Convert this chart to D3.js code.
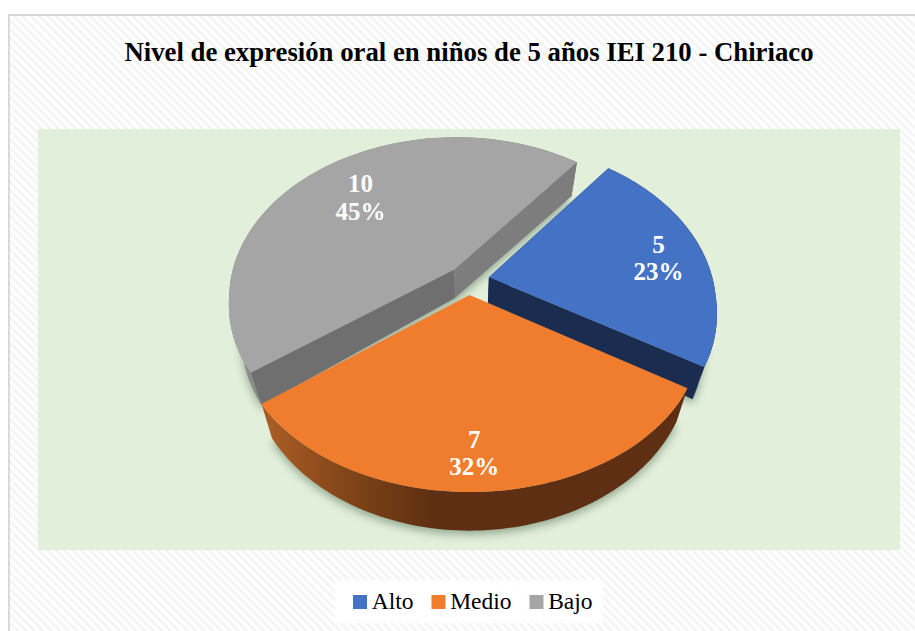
<!DOCTYPE html>
<html><head><meta charset="utf-8">
<script src="https://cdn.jsdelivr.net/npm/d3@7/dist/d3.min.js"></script>
<style>html,body{margin:0;padding:0;background:#fff;overflow:hidden}svg{display:block}text{font-family:"Liberation Serif","Times New Roman",serif}</style>
</head><body><div id="c"></div>
<script>
const title = "Nivel de expresión oral en niños de 5 años IEI 210 - Chiriaco";
const categories = ["Alto", "Medio", "Bajo"];
const values = [5, 7, 10];
const percentLabels = ["23%", "32%", "45%"];

const topColors = ["#4472c4", "#f07d2e", "#a5a5a5"];
const cutColors = ["#1a2d50", "#5e2f12", "#7d7d7d"];
const cutColors2 = ["#1a2d50", "#5e2f12", "#6f6f6f"];
const sideStops = [["#1f3560", "#1a2d50"], ["#ad5e26", "#824518", "#5e2f12", "#5e2f12", "#5e2f12", "#5e2f12"], ["#8c8c8c", "#7a7a7a"]];
const labelRadii = [0.79, 0.815, 0.695];
const labelShiftDeg = [1.2, 1.5, 1.5];
const drawOrder = [2, 0, 1];
const showCut = [true, false, true];
const swatchX = [353, 431.5, 529.5];

const W = 915, H = 631;
const cx = 468.5, cy = 280, RX = 224, RY = 158, K = 0.17, EXPLODE = 0.093, BULGE = 4, BULGE_X = 0.01;
const FIRST = 38.2 * Math.PI / 180;
const svg = d3.select("#c").append("svg").attr("width", W).attr("height", H);
const defs = svg.append("defs");

const hatch = defs.append("pattern").attr("id", "hatch").attr("patternUnits", "userSpaceOnUse")
  .attr("width", 6).attr("height", 6).attr("patternTransform", "rotate(45)");
hatch.append("rect").attr("width", 6).attr("height", 6).attr("fill", "#ffffff");
hatch.append("rect").attr("width", 6).attr("height", 3).attr("fill", "#f5f5f5");

const shadow = defs.append("filter").attr("id", "shadow").attr("x", "-20%").attr("y", "-20%").attr("width", "140%").attr("height", "140%");
shadow.append("feGaussianBlur").attr("stdDeviation", 4);

sideStops.forEach((stops, i) => {
  const g = defs.append("linearGradient").attr("id", "side" + i);
  stops.forEach((c, j) => g.append("stop").attr("offset", j / (stops.length - 1)).attr("stop-color", c));
});

svg.append("rect").attr("x", 9).attr("y", 15).attr("width", W).attr("height", H)
  .attr("fill", "url(#hatch)").attr("stroke", "#d9d9d9").attr("stroke-width", 2);
svg.append("rect").attr("x", 38).attr("y", 129).attr("width", 862).attr("height", 421).attr("fill", "#e2efda");

svg.append("text").attr("x", 469).attr("y", 61).attr("text-anchor", "middle")
  .attr("font-size", 26.76).attr("font-weight", "bold").attr("fill", "#000").text(title);

const slices = d3.pie().sort(null).startAngle(FIRST).endAngle(FIRST + 2 * Math.PI)(values);

function proj(xn, yn) {
  const w = 1 + K * yn;
  const u = 4 * Math.max(0, (-yn - 0.09) * (1.09 + yn));
  return [cx + RX * xn * (1 + BULGE_X * u) / w, cy - RY * yn / w + BULGE * u];
}
function lower(p) {
  return [cx + (p[0] - cx) * 0.95, p[1] + 28 + Math.abs(p[1] - cy) * 0.05];
}
const line = d3.line();

const geo = slices.map((s, i) => {
  const mid = (s.startAngle + s.endAngle) / 2;
  const ox = EXPLODE * Math.sin(mid), oy = EXPLODE * Math.cos(mid);
  const at = (a, r) => proj(ox + r * Math.sin(a), oy + r * Math.cos(a));
  const n = 80;
  const arc = d3.range(n + 1).map(j => at(s.startAngle + (s.endAngle - s.startAngle) * j / n, 1));
  const apex = proj(ox, oy);
  return { i, mid, at, arc, apex };
});

const shadowG = svg.append("g").attr("filter", "url(#shadow)").attr("opacity", 0.55);
geo.forEach(g => {
  const pts = [g.apex, ...g.arc].map(lower).map(p => [p[0], p[1] + 4]);
  shadowG.append("path").attr("d", line(pts) + "Z").attr("fill", "#55705a");
});

drawOrder.forEach(i => {
  const g = geo[i];
  const G = svg.append("g");
  const lowArc = g.arc.map(lower);
  G.append("path").attr("d", line([...g.arc, ...lowArc.slice().reverse()]) + "Z")
    .attr("fill", `url(#side${i})`);
  if (showCut[i]) {
    const startF = [g.apex, g.arc[0], lowArc[0], lower(g.apex)];
    const endF = [g.apex, g.arc[g.arc.length - 1], lowArc[lowArc.length - 1], lower(g.apex)];
    G.append("path").attr("d", line(startF) + "Z").attr("fill", cutColors2[i]);
    G.append("path").attr("d", line(endF) + "Z").attr("fill", cutColors[i]);
  }
  G.append("path").attr("d", line([g.apex, ...g.arc]) + "Z").attr("fill", topColors[i]);
});

geo.forEach(g => {
  const p = g.at(g.mid + labelShiftDeg[g.i] * Math.PI / 180, labelRadii[g.i]);
  const t = svg.append("text").attr("text-anchor", "middle").attr("fill", "#fff")
    .attr("font-weight", "bold").attr("font-size", 25);
  t.append("tspan").attr("x", p[0]).attr("y", p[1] - 4).text(values[g.i]);
  t.append("tspan").attr("x", p[0]).attr("dy", 27.5).text(percentLabels[g.i]);
});

svg.append("rect").attr("x", 335).attr("y", 580).attr("width", 268).attr("height", 43).attr("fill", "#fff").attr("opacity", 0.85);
categories.forEach((c, i) => {
  svg.append("rect").attr("x", swatchX[i]).attr("y", 595).attr("width", 14).attr("height", 14).attr("fill", topColors[i]);
  svg.append("text").attr("x", swatchX[i] + 18.7).attr("y", 608.5).attr("font-size", 23.5).attr("fill", "#000").text(c);
});
</script></body></html>
